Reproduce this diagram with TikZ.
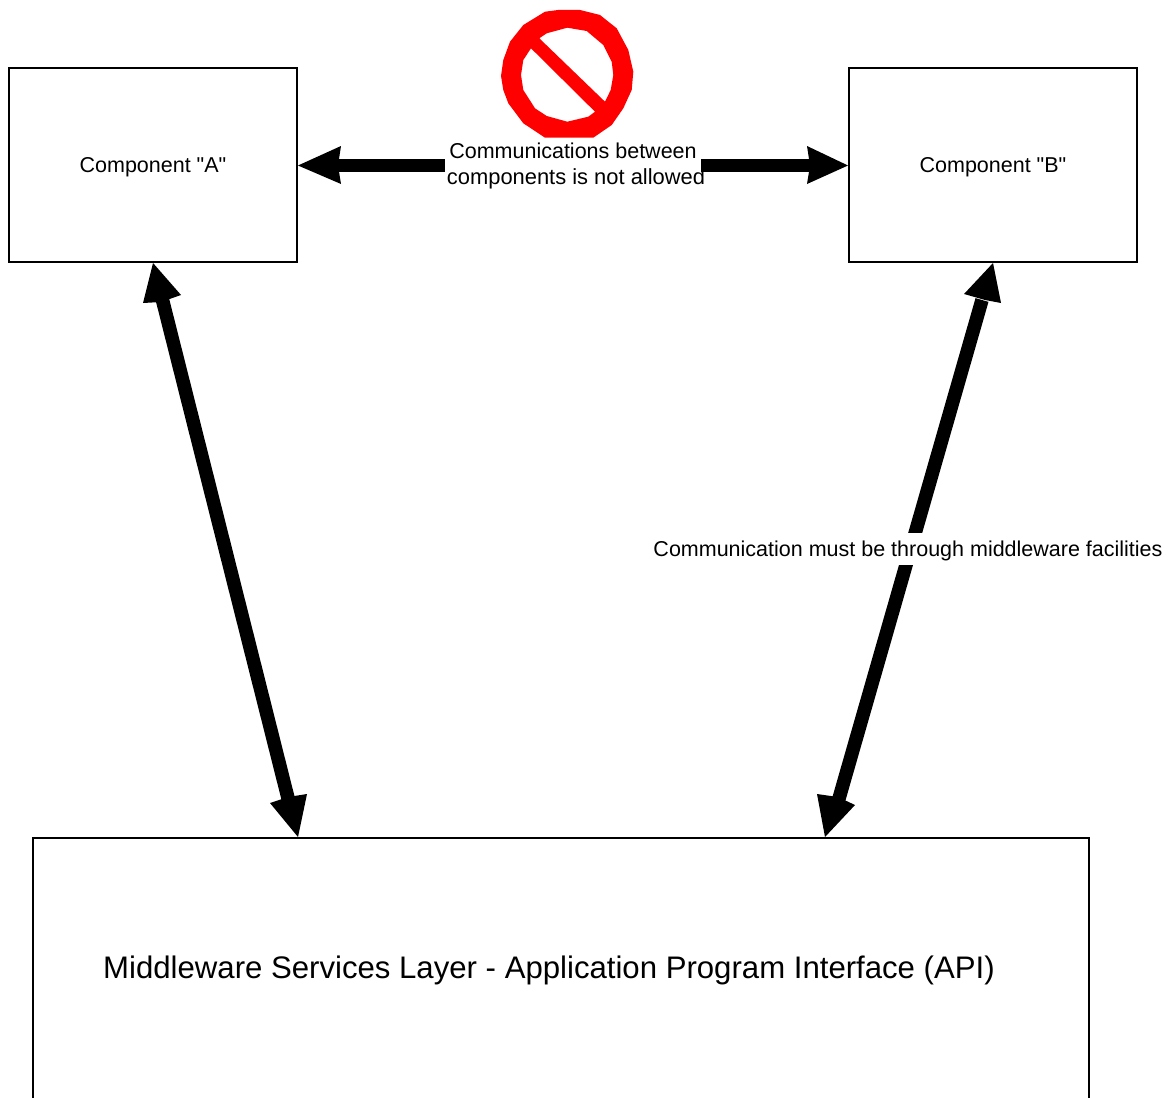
\documentclass[tikz,border=0pt]{standalone}
\usepackage{fontspec}
\newfontfamily\lblfont{Liberation Sans}
\tikzset{
  box/.style={draw=black,line width=1.5pt,fill=white,inner sep=0pt,outer sep=0pt,anchor=north west},
  lbl/.style={font=\lblfont\fontsize{21.5}{26}\selectfont,align=center,inner sep=0pt,text=black},
  shaft/.style={line width=13.5pt,draw=black},
  tip/.style={fill=black,draw=none},
}
\begin{document}
\begin{tikzpicture}[x=1pt,y=-1pt]
\useasboundingbox (0,0) rectangle (1169,1097);
% boxes
\node[box,minimum width=288pt,minimum height=194pt] (a) at (9,68) {};
\node[box,minimum width=288pt,minimum height=194pt] (b) at (849,68) {};
\begin{scope}
\clip (0,0) rectangle (1169,1097);
\node[box,minimum width=1056pt,minimum height=300pt] (m) at (33,838) {};
\end{scope}
\node[lbl] (al) at (153,167) {Component "A"};
\node[lbl] (bl) at (993,167) {Component "B"};
\node[lbl,font=\lblfont\fontsize{31.15}{38}\selectfont] (ml) at (549,970) {Middleware Services Layer - Application Program Interface (API)};
% anchors of connectors
\coordinate (at) at (298,165.5);
\coordinate (bt) at (848,165.5);
\coordinate (au) at (153,263);
\coordinate (ad) at (298,837);
\coordinate (bu) at (993,263);
\coordinate (bd) at (825,837);
% horizontal
\draw[shaft] (335,165.5) -- (812,165.5);
\fill[tip] (at) -- (341,146) -- (338,165.5) -- (341,184) -- cycle;
\fill[tip] (bt) -- (807,146) -- (810,165.5) -- (807,184) -- cycle;
% left diagonal
\draw[shaft] (162,298) -- (289,802);
\fill[tip] (au) -- (181,295) -- (161,302) -- (143,303) -- cycle;
\fill[tip] (ad) -- (270,803) -- (288,797) -- (307,794) -- cycle;
% right diagonal
\draw[shaft] (982,300) -- (838,802);
\fill[tip] (bu) -- (1001,303) -- (985,300) -- (964,294) -- cycle;
\fill[tip] (bd) -- (817,794) -- (838,797) -- (855,805) -- cycle;
% labels over connectors
\node[lbl,fill=white,minimum width=256pt] (cl) at (573,166) {\makebox[256pt][c]{Communications between}\\\makebox[256pt][c]{\hspace{6pt}\fontsize{21.9}{26}\selectfont components is not allowed}};
\node[lbl,fill=white,text height=23pt,text depth=9pt,anchor=base] (dl) at (908,556.3) {Communication must be through middleware facilities};
% no-entry sign
\fill[red,even odd rule]
  (501,76) -- (503.3,60) -- (510,41.7) -- (523.3,25) -- (545,11.7) -- (558,10) -- (580,10) -- (600,15) -- (616.7,28.3) -- (628.3,50) -- (633.3,71.7) -- (631.7,90) -- (623.3,108.3) -- (611.7,125) -- (593.3,137.7) -- (545,137.7) -- (523.3,123.3) -- (508.3,103.3) -- (503.3,90) -- cycle
  (539.3,38.3) -- (546.7,33.3) -- (567.3,27.7) -- (586.7,31) -- (603.3,45) -- (611.7,61.7) -- (613.3,75) -- (610.7,90) -- (605,101.7) -- cycle
  (531,48.3) -- (523.3,60) -- (521,75) -- (523.3,90) -- (535,108.3) -- (546.7,116) -- (567.3,121.7) -- (588.3,116.7) -- (595,111.7) -- cycle;
\end{tikzpicture}
\end{document}
